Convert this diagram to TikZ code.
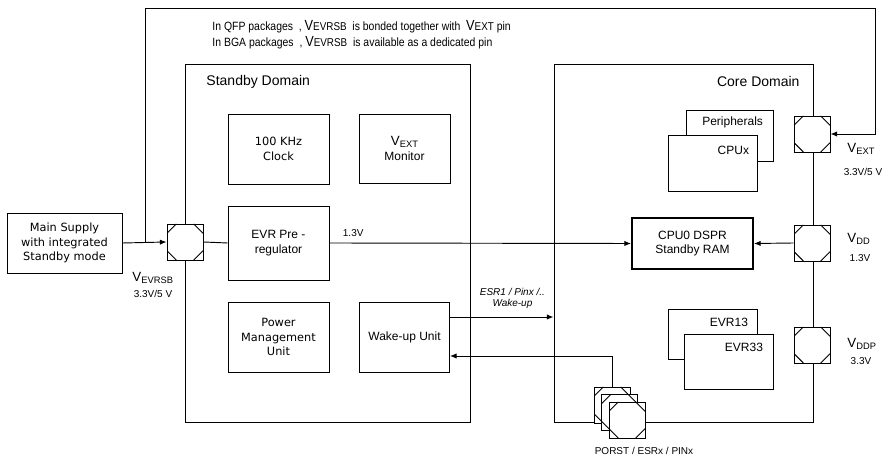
\documentclass[tikz,border=0pt]{standalone}
\usepackage{fontspec}
\setmainfont{Liberation Sans}
\newfontfamily\verafont{DejaVu Sans}
\usetikzlibrary{arrows.meta}

% pin names: big V, lowered small suffix
\newcommand{\pinV}[1]{{\fontsize{10}{12}\selectfont V}{\fontsize{7}{8}\selectfont\raisebox{-0.45ex}{#1}}}
\newcommand{\noteV}[1]{{\fontsize{11}{12}\selectfont V}{\fontsize{8.5}{10}\selectfont #1}}
\newcommand{\narrowtxt}[1]{\scalebox{0.87}[1]{#1}}

\tikzset{
  blk/.style={draw, fill=white, align=center, inner sep=1pt, font=\fontsize{9}{11}\selectfont},
  wideblk/.style={blk, font=\verafont\fontsize{8.5}{11}\selectfont},
  domainbox/.style={draw, inner sep=0pt},
  lbl/.style={inner sep=0pt, font=\fontsize{7.5}{9}\selectfont},
  pad/.style={draw, fill=white, minimum size=27pt, inner sep=0pt,
    path picture={
      \draw ([xshift=7pt]path picture bounding box.north west) -- ([yshift=-7pt]path picture bounding box.north west);
      \draw ([xshift=-7pt]path picture bounding box.north east) -- ([yshift=-7pt]path picture bounding box.north east);
      \draw ([xshift=7pt]path picture bounding box.south west) -- ([yshift=7pt]path picture bounding box.south west);
      \draw ([xshift=-7pt]path picture bounding box.south east) -- ([yshift=7pt]path picture bounding box.south east);
    }},
}

\begin{document}
\begin{tikzpicture}[x=0.75pt, y=-0.75pt, line width=0.7pt, >={Latex[length=5pt,width=4pt]}]
    \useasboundingbox (0,0) rectangle (890,459);

    % Domains
    \node[domainbox, minimum width=213.75pt, minimum height=268.5pt] (standby) at (327.5,243) {};
    \node[domainbox, minimum width=194.25pt, minimum height=268.5pt] (core) at (683.5,243) {};
    \node[anchor=west, inner sep=0pt, font=\fontsize{10.5}{12}\selectfont] (standbyname) at (206,82) {Standby Domain};
    \node[anchor=east, inner sep=0pt, font=\fontsize{10.5}{12}\selectfont] (corename) at (800,82) {Core Domain};

    % Note on top
    \node[anchor=west, inner sep=0pt, font=\fontsize{9}{10}\selectfont] (note1) at (212,27)
        {\narrowtxt{In QFP packages\ \ ,\ \noteV{EVRSB}\ \ is bonded together with\ \ \noteV{EXT} pin}};
    \node[anchor=west, inner sep=0pt, font=\fontsize{9}{10}\selectfont] (note2) at (212,43)
        {\narrowtxt{In BGA packages\ \ ,\ \noteV{EVRSB}\ \ is available as a dedicated pin}};

    % Supply
    \node[wideblk, minimum width=86.25pt, minimum height=45pt] (supply) at (64.5,243)
        {Main Supply\\with integrated\\Standby mode};

    % Standby domain blocks
    \node[wideblk, minimum width=75.75pt, minimum height=52.5pt] (clock) at (278.5,149) {100 KHz\\Clock};
    \node[blk, minimum width=68.25pt, minimum height=51.75pt] (monitor) at (404.5,148.5) {\pinV{EXT}\\Monitor};
    \node[blk, minimum width=75.75pt, minimum height=55.5pt] (prereg) at (278.5,243) {EVR Pre -\\regulator};
    \node[wideblk, minimum width=75.75pt, minimum height=52.5pt] (pmu) at (278.5,337) {Power\\Management\\Unit};
    \node[blk, minimum width=67.5pt, minimum height=52.5pt] (wakeup) at (404.5,337) {Wake-up Unit};

    % Core domain blocks
    \node[blk, minimum width=65.25pt, minimum height=38.25pt] (periph) at (729.5,135.5) {};
    \node[blk, minimum width=66.75pt, minimum height=42pt] (cpux) at (712.5,163) {};
    \node[anchor=east, inner sep=0pt, font=\fontsize{9}{11}\selectfont] (periphname) at ([xshift=-7.5pt,yshift=-9.75pt]periph.north east) {Peripherals};
    \node[anchor=east, inner sep=0pt, font=\fontsize{9}{11}\selectfont] (cpuxname) at ([xshift=-6pt,yshift=-12pt]cpux.north east) {CPUx};
    \node[blk, line width=1.5pt, minimum width=90.75pt, minimum height=38.25pt] (dspr) at (692.5,243.5) {CPU0 DSPR\\Standby RAM};
    \node[blk, minimum width=66.75pt, minimum height=37.5pt] (evr13) at (712.5,334) {};
    \node[blk, minimum width=66.75pt, minimum height=41.25pt] (evr33) at (728.5,361.5) {};
    \node[anchor=east, inner sep=0pt, font=\fontsize{9}{11}\selectfont] (evr13name) at ([xshift=-6.75pt,yshift=-10.5pt]evr13.north east) {EVR13};
    \node[anchor=east, inner sep=0pt, font=\fontsize{9}{11}\selectfont] (evr33name) at ([xshift=-7.5pt,yshift=-10.5pt]evr33.north east) {EVR33};

    % Pads
    \node[pad] (vevrsb) at (185,242) {};
    \node[pad] (vext) at (812,134) {};
    \node[pad] (vdd) at (812,243) {};
    \node[pad] (vddp) at (812,345) {};
    \node[pad] (porst1) at (612,405) {};
    \node[pad] (porst2) at (619.5,412.5) {};
    \node[pad] (porst3) at (627,420) {};

    % Pad labels
    \node[anchor=west, inner sep=0pt] (vevrsbname) at (132,278) {\pinV{EVRSB}};
    \node[lbl] (vevrsbval) at (153,294) {3.3V/5 V};
    \node[anchor=west, inner sep=0pt] (vextname) at (847,149) {\pinV{EXT}};
    \node[lbl] (vextval) at (863,172) {3.3V/5 V};
    \node[anchor=west, inner sep=0pt] (vddname) at (847,239) {\pinV{DD}};
    \node[lbl] (vddval) at (860,258) {1.3V};
    \node[anchor=west, inner sep=0pt] (vddpname) at (847,344) {\pinV{DDP}};
    \node[lbl] (vddpval) at (861,361) {3.3V};
    \node[inner sep=0pt, font=\fontsize{7.5}{8}\selectfont] (porstname) at (644,451) {PORST / ESRx / PINx};

    % Connections
    \coordinate (jn) at (145,242);
    \coordinate (tr) at (875,8);
    \draw[->] (supply.east) -- (vevrsb.west);
    \draw[->] (jn) |- (tr) |- (vext.east);
    \draw (vevrsb.east) -- (prereg.west);
    \draw[->] (prereg.east) -- (dspr.west)
        node[lbl, pos=0, anchor=south west, xshift=9.75pt, yshift=4.5pt] {1.3V};
    \draw[->] (vdd.west) -- (dspr.east);
    \draw[->] ([yshift=15pt]wakeup.east) -- ([yshift=15pt]wakeup.east -| core.west)
        node[midway, above=6pt, xshift=8pt, inner sep=0pt, align=center, font=\itshape\fontsize{7.5}{8.5}\selectfont] {ESR1 / Pinx /..\\Wake-up};
    \draw[->] (porst1.north) |- ([yshift=-14.25pt]wakeup.east);
\end{tikzpicture}
\end{document}
